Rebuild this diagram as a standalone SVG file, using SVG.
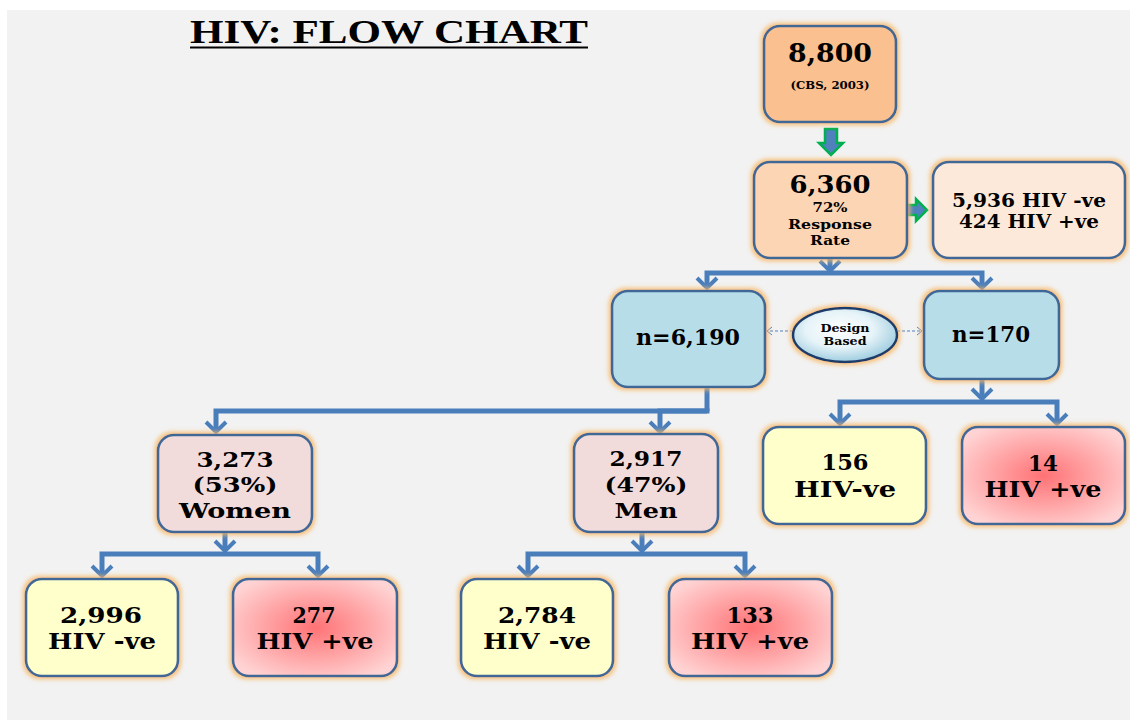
<svg xmlns="http://www.w3.org/2000/svg" width="1130" height="723" viewBox="0 0 1130 723">
<defs>
  <filter id="glow" x="-15%" y="-15%" width="130%" height="130%">
    <feMorphology in="SourceAlpha" operator="dilate" radius="2" result="d"/>
    <feGaussianBlur in="d" stdDeviation="2" result="b"/>
    <feFlood flood-color="#f7b866" flood-opacity="0.85"/>
    <feComposite in2="b" operator="in" result="g"/>
    <feMerge><feMergeNode in="g"/><feMergeNode in="SourceGraphic"/></feMerge>
  </filter>
  <radialGradient id="pos" cx="50%" cy="50%" r="60%">
    <stop offset="0" stop-color="#ff7275"/>
    <stop offset="1" stop-color="#ffd3d3"/>
  </radialGradient>
  <radialGradient id="ell" cx="45%" cy="40%" r="60%">
    <stop offset="0" stop-color="#ffffff"/>
    <stop offset="0.55" stop-color="#e6f3f8"/>
    <stop offset="1" stop-color="#9fcde0"/>
  </radialGradient>
  <marker id="chev" markerUnits="userSpaceOnUse" markerWidth="26" markerHeight="26" viewBox="-13 -13 26 26" refX="0" refY="0" orient="auto">
    <path d="M-10,-10 L0,0 L-10,10" fill="none" stroke="#4a7ebb" stroke-width="4" stroke-linejoin="miter"/>
  </marker>
  <marker id="thin" markerUnits="userSpaceOnUse" markerWidth="12" markerHeight="12" viewBox="-6 -6 12 12" refX="0" refY="0" orient="auto">
    <path d="M-5,-4 L0,0 L-5,4" fill="none" stroke="#4f81bd" stroke-width="1"/>
  </marker>
</defs>
<style>
  .box { stroke: #3f6797; stroke-width: 2.6; filter: url(#glow); }
  .t { font-family: "DejaVu Serif", "Liberation Serif", serif; font-weight: bold; fill: #000; text-anchor: middle; }
  .c { fill: none; stroke: #4a7ebb; stroke-width: 5; marker-end: url(#chev); }
  .cn { fill: none; stroke: #4a7ebb; stroke-width: 5; }
  .g { fill: #4f81bd; stroke: #00b050; stroke-width: 2.5; stroke-linejoin: miter; }
</style>
<rect x="0" y="0" width="1130" height="723" fill="#ffffff"/>
<rect x="7" y="10" width="1123" height="710" fill="#f2f2f2"/>

<g id="title">
  <text x="190" y="43" font-family="'Liberation Serif', 'Times New Roman', serif" font-weight="bold" font-size="33" textLength="398" lengthAdjust="spacingAndGlyphs">HIV: FLOW CHART</text>
  <line x1="190" y1="47.5" x2="588" y2="47.5" stroke="#000" stroke-width="2"/>
</g>

<g id="connectors">
  <polygon class="g" points="825,129 837,129 837,143 843,143 831,155 819,143 825,143"/>
  <polygon class="g" points="905,205 916,205 916,199 927,210 916,221 916,215 905,215"/>
  <path class="c" d="M830,258 V271"/>
  <path class="c" d="M830,273 H707 V288"/>
  <path class="c" d="M830,273 H982 V288"/>
  <path class="cn" d="M707,387 V411"/>
  <path class="c" d="M709.5,411 H216 V432"/>
  <path class="c" d="M707,411 H660 V432"/>
  <path class="c" d="M225,532 V551"/>
  <path class="c" d="M225,554 H102 V576"/>
  <path class="c" d="M225,554 H318 V576"/>
  <path class="c" d="M642,532 V551"/>
  <path class="c" d="M642,554 H528 V576"/>
  <path class="c" d="M642,554 H745 V576"/>
  <path class="c" d="M982,379 V399"/>
  <path class="c" d="M982,402 H840 V424"/>
  <path class="c" d="M982,402 H1057 V424"/>
  <path d="M793,331 H767" fill="none" stroke="#4f81bd" stroke-width="1" stroke-dasharray="3,2" marker-end="url(#thin)"/>
  <path d="M897,331 H922" fill="none" stroke="#4f81bd" stroke-width="1" stroke-dasharray="3,2" marker-end="url(#thin)"/>
</g>

<g id="n8800">
  <rect class="box" x="764" y="26" width="132" height="96" rx="16" fill="#fac090"/>
  <text class="t" x="830" y="62" font-size="26" textLength="84" lengthAdjust="spacingAndGlyphs">8,800</text>
  <text class="t" x="830" y="89" font-size="10.5" textLength="79" lengthAdjust="spacingAndGlyphs">(CBS, 2003)</text>
</g>

<g id="n6360">
  <rect class="box" x="754" y="162" width="153" height="96" rx="16" fill="#fcd5b4"/>
  <text class="t" x="830" y="193" font-size="24" textLength="81" lengthAdjust="spacingAndGlyphs">6,360</text>
  <text class="t" x="830" y="212" font-size="13.5" textLength="35" lengthAdjust="spacingAndGlyphs">72%</text>
  <text class="t" x="830" y="229" font-size="13.5" textLength="84" lengthAdjust="spacingAndGlyphs">Response</text>
  <text class="t" x="830" y="245" font-size="13.5" textLength="40" lengthAdjust="spacingAndGlyphs">Rate</text>
</g>

<g id="nresult">
  <rect class="box" x="933" y="162" width="192" height="96" rx="16" fill="#fde9d9"/>
  <text class="t" x="1029" y="207" font-size="18" textLength="154" lengthAdjust="spacingAndGlyphs">5,936 HIV -ve</text>
  <text class="t" x="1029" y="228" font-size="18" textLength="140" lengthAdjust="spacingAndGlyphs">424 HIV +ve</text>
</g>

<g id="n6190">
  <rect class="box" x="612" y="291" width="153" height="96" rx="16" fill="#b7dde8"/>
  <text class="t" x="688" y="345" font-size="22" textLength="104" lengthAdjust="spacingAndGlyphs">n=6,190</text>
</g>

<g id="design">
  <ellipse cx="845" cy="335" rx="52" ry="27" fill="url(#ell)" stroke="#1f3d6b" stroke-width="2.5" filter="url(#glow)"/>
  <text class="t" x="845" y="332" font-size="11" textLength="49" lengthAdjust="spacingAndGlyphs">Design</text>
  <text class="t" x="845" y="345" font-size="11" textLength="43" lengthAdjust="spacingAndGlyphs">Based</text>
</g>

<g id="n170">
  <rect class="box" x="924" y="291" width="135" height="88" rx="16" fill="#b7dde8"/>
  <text class="t" x="991" y="342" font-size="22" textLength="78" lengthAdjust="spacingAndGlyphs">n=170</text>
</g>

<g id="women">
  <rect class="box" x="158" y="435" width="154" height="97" rx="16" fill="#f2dcdb"/>
  <text class="t" x="235" y="467" font-size="21" textLength="77" lengthAdjust="spacingAndGlyphs">3,273</text>
  <text class="t" x="235" y="492" font-size="21" textLength="85" lengthAdjust="spacingAndGlyphs">(53%)</text>
  <text class="t" x="235" y="518" font-size="21" textLength="112" lengthAdjust="spacingAndGlyphs">Women</text>
</g>

<g id="men">
  <rect class="box" x="574" y="434" width="144" height="98" rx="16" fill="#f2dcdb"/>
  <text class="t" x="646" y="466" font-size="21" textLength="73" lengthAdjust="spacingAndGlyphs">2,917</text>
  <text class="t" x="646" y="492" font-size="21" textLength="83" lengthAdjust="spacingAndGlyphs">(47%)</text>
  <text class="t" x="646" y="518" font-size="21" textLength="63" lengthAdjust="spacingAndGlyphs">Men</text>
</g>

<g id="w_neg">
  <rect class="box" x="26" y="579" width="152" height="97" rx="16" fill="#ffffcc"/>
  <text class="t" x="101" y="623" font-size="22" textLength="82" lengthAdjust="spacingAndGlyphs">2,996</text>
  <text class="t" x="102" y="649" font-size="22" textLength="108" lengthAdjust="spacingAndGlyphs">HIV -ve</text>
</g>

<g id="w_pos">
  <rect class="box" x="233" y="579" width="164" height="97" rx="16" fill="url(#pos)"/>
  <text class="t" x="314" y="623" font-size="22" textLength="43" lengthAdjust="spacingAndGlyphs">277</text>
  <text class="t" x="315" y="649" font-size="22" textLength="117" lengthAdjust="spacingAndGlyphs">HIV +ve</text>
</g>

<g id="m_neg">
  <rect class="box" x="461" y="579" width="152" height="97" rx="16" fill="#ffffcc"/>
  <text class="t" x="537" y="623" font-size="22" textLength="78" lengthAdjust="spacingAndGlyphs">2,784</text>
  <text class="t" x="537" y="649" font-size="22" textLength="108" lengthAdjust="spacingAndGlyphs">HIV -ve</text>
</g>

<g id="m_pos">
  <rect class="box" x="669" y="579" width="163" height="97" rx="16" fill="url(#pos)"/>
  <text class="t" x="750" y="623" font-size="22" textLength="47" lengthAdjust="spacingAndGlyphs">133</text>
  <text class="t" x="750" y="649" font-size="22" textLength="118" lengthAdjust="spacingAndGlyphs">HIV +ve</text>
</g>

<g id="s_neg">
  <rect class="box" x="763" y="427" width="163" height="97" rx="16" fill="#ffffcc"/>
  <text class="t" x="845" y="470" font-size="22" textLength="47" lengthAdjust="spacingAndGlyphs">156</text>
  <text class="t" x="845" y="497" font-size="22" textLength="102" lengthAdjust="spacingAndGlyphs">HIV-ve</text>
</g>

<g id="s_pos">
  <rect class="box" x="962" y="427" width="163" height="97" rx="16" fill="url(#pos)"/>
  <text class="t" x="1043" y="471" font-size="22" textLength="30" lengthAdjust="spacingAndGlyphs">14</text>
  <text class="t" x="1043" y="497" font-size="22" textLength="117" lengthAdjust="spacingAndGlyphs">HIV +ve</text>
</g>
</svg>
